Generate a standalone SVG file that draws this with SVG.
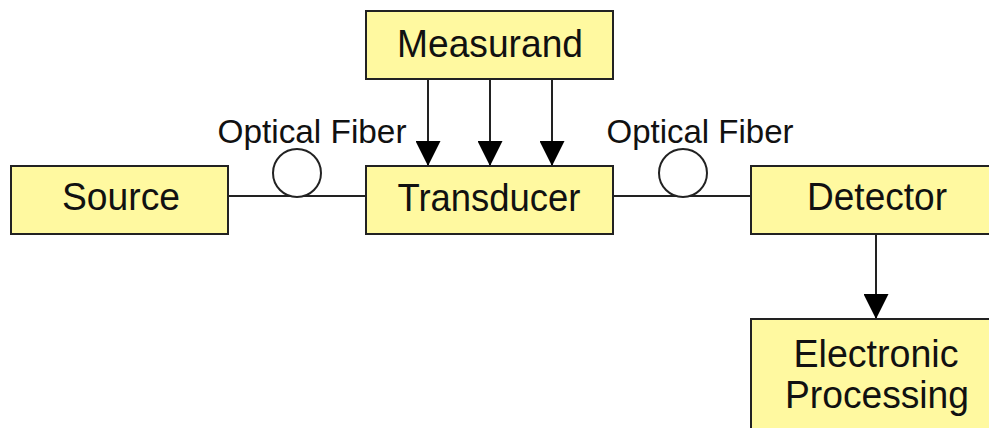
<svg xmlns="http://www.w3.org/2000/svg" width="989" height="428" viewBox="0 0 989 428">
<defs>
<style>
.box{fill:#fff9a0;stroke:#222;stroke-width:2}
.t{font-family:"Liberation Sans",Arial,sans-serif;font-size:39px;fill:#111;text-anchor:middle}
.l{font-family:"Liberation Sans",Arial,sans-serif;font-size:33px;fill:#111;text-anchor:middle}
.ln{stroke:#222;stroke-width:2;fill:none}
.coil{stroke:#222;stroke-width:2;fill:#fff}
</style>
<marker id="ah" viewBox="0 0 25 25" refX="25" refY="12.5" markerWidth="25" markerHeight="25" markerUnits="userSpaceOnUse" orient="auto">
<path d="M0,0 L25,12.5 L0,25 Z" fill="#000"/>
</marker>
</defs>
<rect width="989" height="428" fill="#fff"/>
<g id="connectors">
<line class="ln" x1="228" y1="196" x2="366" y2="196"/>
<line class="ln" x1="613" y1="196" x2="751" y2="196"/>
<circle class="coil" cx="297" cy="173" r="24"/>
<circle class="coil" cx="683" cy="173" r="24"/>
<line class="ln" x1="428" y1="79" x2="428" y2="166" marker-end="url(#ah)"/>
<line class="ln" x1="490" y1="79" x2="490" y2="166" marker-end="url(#ah)"/>
<line class="ln" x1="552" y1="79" x2="552" y2="166" marker-end="url(#ah)"/>
<line class="ln" x1="876" y1="234" x2="876" y2="319" marker-end="url(#ah)"/>
<text class="l" x="312" y="143" textLength="189" lengthAdjust="spacingAndGlyphs">Optical Fiber</text>
<text class="l" x="700" y="143" textLength="187" lengthAdjust="spacingAndGlyphs">Optical Fiber</text>
</g>
<g id="measurand">
<rect class="box" x="366" y="11" width="247" height="68"/>
<text class="t" x="490" y="57" textLength="186" lengthAdjust="spacingAndGlyphs">Measurand</text>
</g>
<g id="source">
<rect class="box" x="11" y="166" width="217" height="68"/>
<text class="t" x="121" y="210" textLength="118" lengthAdjust="spacingAndGlyphs">Source</text>
</g>
<g id="transducer">
<rect class="box" x="366" y="166" width="247" height="68"/>
<text class="t" x="489" y="211" textLength="183" lengthAdjust="spacingAndGlyphs">Transducer</text>
</g>
<g id="detector">
<rect class="box" x="751" y="166" width="260" height="68"/>
<text class="t" x="877" y="210" textLength="140" lengthAdjust="spacingAndGlyphs">Detector</text>
</g>
<g id="electronic">
<rect class="box" x="751" y="319" width="260" height="130"/>
<text class="t" x="876" y="367" textLength="165" lengthAdjust="spacingAndGlyphs">Electronic</text>
<text class="t" x="877" y="408" textLength="184" lengthAdjust="spacingAndGlyphs">Processing</text>
</g>
</svg>
